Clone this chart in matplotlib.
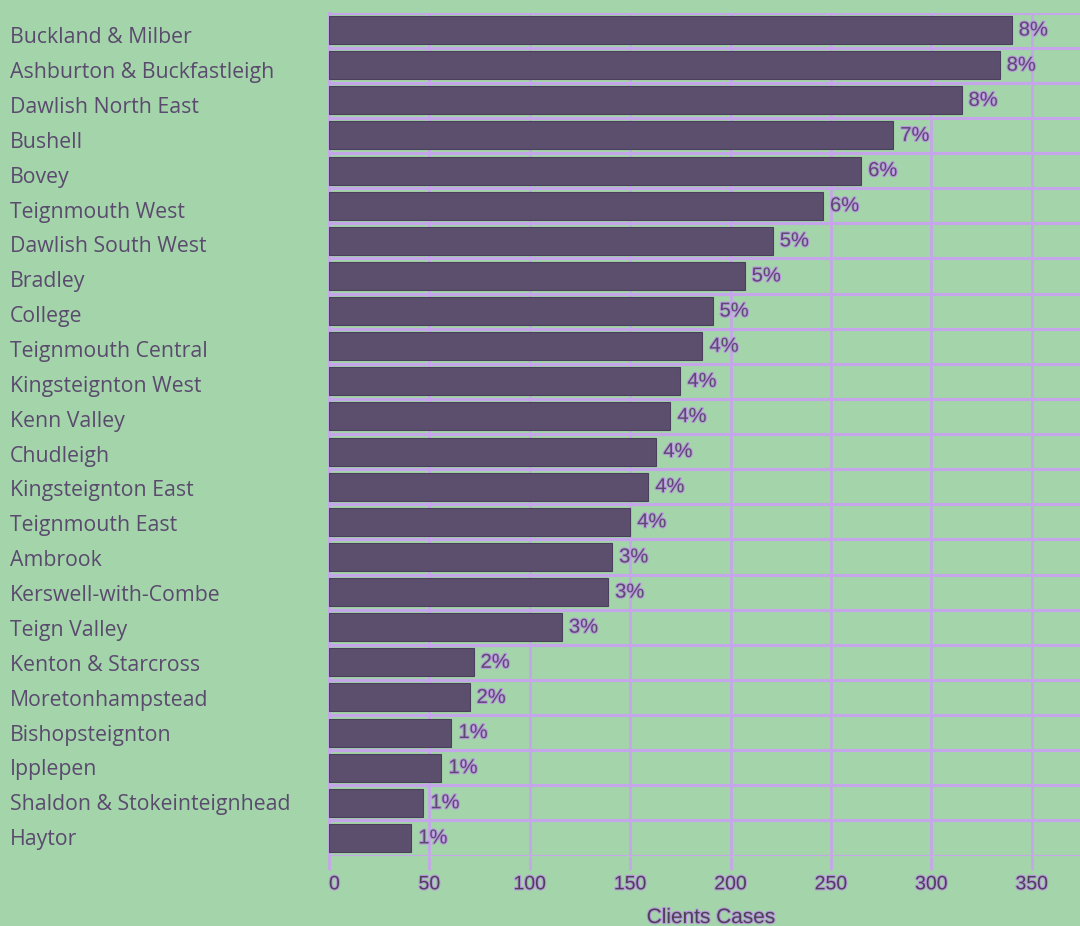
import numpy as np
import matplotlib
matplotlib.use("Agg")
import matplotlib.pyplot as plt
import matplotlib.patheffects as pe

# данные
wards = ["Buckland & Milber", "Ashburton & Buckfastleigh", "Dawlish North East",
         "Bushell", "Bovey", "Teignmouth West", "Dawlish South West", "Bradley",
         "College", "Teignmouth Central", "Kingsteignton West", "Kenn Valley",
         "Chudleigh", "Kingsteignton East", "Teignmouth East", "Ambrook",
         "Kerswell-with-Combe", "Teign Valley", "Kenton & Starcross",
         "Moretonhampstead", "Bishopsteignton", "Ipplepen",
         "Shaldon & Stokeinteignhead", "Haytor"]
cases = [340, 334, 315, 281, 265, 246, 221, 207, 191, 186, 175, 170,
         163, 159, 150, 141, 139, 116, 72, 70, 61, 56, 47, 41]
pct_labels = ["8%", "8%", "8%", "7%", "6%", "6%", "5%", "5%", "5%", "4%", "4%", "4%",
              "4%", "4%", "4%", "3%", "3%", "3%", "2%", "2%", "1%", "1%", "1%", "1%"]
x_ticks = [0, 50, 100, 150, 200, 250, 300, 350]

bg = "#a4d5aa"
bar_c = "#5c4f6e"
grid_c = "#c6a6ea"
txt_c = "#5a4a6e"
tick_c = "#4a4254"

fig = plt.figure(figsize=(10.8, 9.26), dpi=100, facecolor=bg)
ax = fig.add_axes([329 / 1080, 1 - 855.5 / 926, 1 - 329 / 1080, (855.5 - 12.5) / 926])
ax.set_facecolor(bg)

y = np.arange(len(wards))
ax.barh(y, cases, height=0.8, color=bar_c, edgecolor="#4a3f5c", linewidth=0.8, zorder=3)

ax.set_xlim(0, 374)
ax.set_ylim(len(wards) - 0.5, -0.5)

# сетка: вертикальные линии на делениях, горизонтальные между столбцами
ax.set_xticks(x_ticks)
ax.set_yticks([])
ax.set_yticks(np.arange(-0.5, len(wards), 1), minor=True)
ax.grid(axis="x", which="major", color=grid_c, linewidth=2, zorder=1)
ax.grid(axis="y", which="minor", color=grid_c, linewidth=2.2, zorder=1)
ax.tick_params(axis="y", which="both", length=0)
ax.tick_params(axis="x", length=10, width=2, color=grid_c, pad=5)

for s in ["top", "right", "bottom"]:
    ax.spines[s].set_visible(False)
ax.spines["left"].set_color(grid_c)
ax.spines["left"].set_linewidth(2)

glow = [pe.withStroke(linewidth=1.6, foreground="#b898dc")]
for lab in ax.get_xticklabels():
    lab.set_fontfamily("Liberation Sans")
    lab.set_fontsize(14)
    lab.set_color(tick_c)
    lab.set_path_effects(glow)
# "0" на оригинале сдвинут вправо от деления
ax.get_xticklabels()[0].set_ha("left")

xl = ax.set_xlabel("Clients Cases", fontfamily="Liberation Sans", fontsize=15,
                   color=tick_c, path_effects=glow)
xl.set_va("baseline")
ax.xaxis.set_label_coords((711 - 329) / 751, (855.5 - 923) / 843)

# подписи процентов у концов столбцов
for i in range(len(cases)):
    ax.text(cases[i] + 3.5, y[i], pct_labels[i], va="center", ha="left",
            fontfamily="Liberation Sans", fontsize=14.5, color=txt_c,
            path_effects=glow, zorder=4)

# названия округов слева (своя сетка строк, чуть плотнее столбцов)
for i in range(len(wards)):
    fig.text(10 / 1080, 1 - (43.3 + i * 34.86) / 926, wards[i], va="baseline", ha="left",
             fontfamily="Open Sans", fontsize=15.3, color=txt_c)

fig.savefig("out.png", dpi=100, facecolor=bg)
